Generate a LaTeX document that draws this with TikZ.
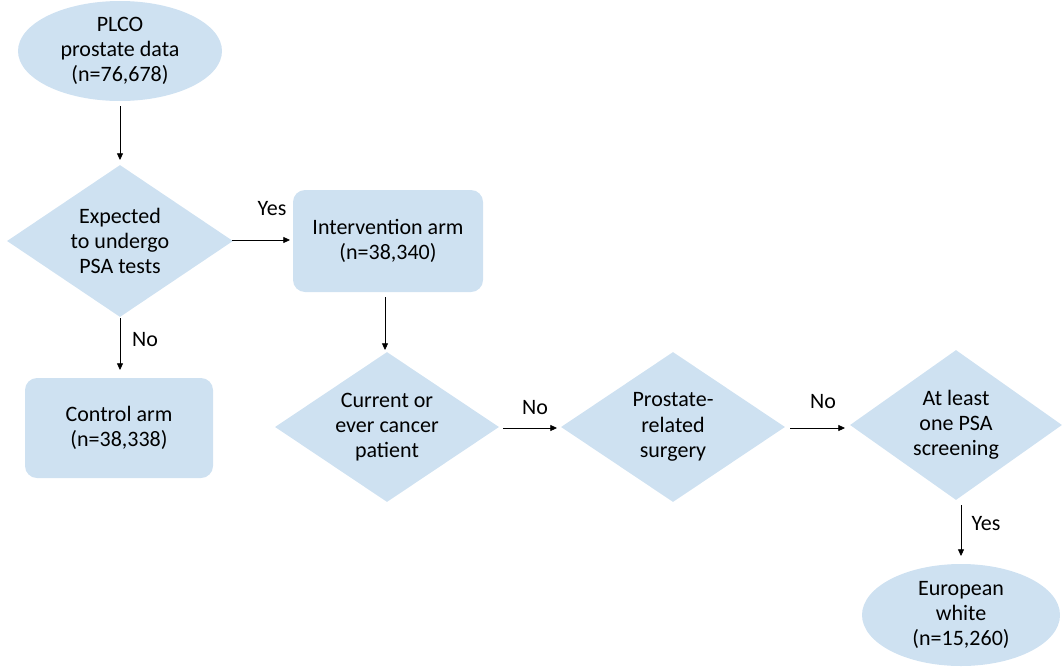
\documentclass[tikz,border=0pt]{standalone}
\usepackage{fontspec}
\setmainfont{Carlito}
\usetikzlibrary{shapes.geometric,arrows.meta}
\definecolor{boxblue}{RGB}{206,225,241}
\tikzset{
  base/.style={fill=boxblue,draw=none,align=center,font=\fontsize{16.5}{18.9}\selectfont,inner sep=0pt},
  oval/.style={base,ellipse},
  dec/.style={base,diamond,aspect=1.5},
  rbox/.style={base,rectangle,rounded corners=9pt},
  arr/.style={-{Triangle[length=5pt,width=4.5pt]},line width=0.6pt},
  lab/.style={font=\fontsize{16.5}{18}\selectfont,inner sep=1pt}
}
\begin{document}
\begin{tikzpicture}[x=0.75pt,y=-0.75pt]
\useasboundingbox (0,0) rectangle (1062,671);
% shapes
\node[oval,minimum width=204*0.75pt,minimum height=100*0.75pt] (plco) at (120,51) {PLCO\\prostate data\\(n=76,678)};
\node[dec,minimum width=226*0.75pt,minimum height=152*0.75pt] (exp) at (120,241) {Expected\\to undergo\\PSA tests};
\node[rbox,minimum width=190*0.75pt,minimum height=102*0.75pt] (int) at (388,241) {Intervention arm\\(n=38,340)};
\node[rbox,minimum width=188*0.75pt,minimum height=100*0.75pt] (ctrl) at (119,428) {Control arm\\(n=38,338)};
\node[dec,minimum width=224*0.75pt,minimum height=150*0.75pt] (cur) at (387,427) {Current or\\ever cancer\\patient};
\node[dec,minimum width=224*0.75pt,minimum height=150*0.75pt] (surg) at (673,427) {Prostate-\\related\\surgery};
\node[dec,minimum width=212*0.75pt,minimum height=150*0.75pt] (psa) at (956,425) {At least\\one PSA\\screening};
\node[oval,minimum width=198*0.75pt,minimum height=102*0.75pt] (eur) at (961,615) {European\\white\\(n=15,260)};
% connector endpoints
\coordinate (a1) at (120,106); \coordinate (a2) at (120,160);
\coordinate (b1) at (232,240); \coordinate (b2) at (290,240);
\coordinate (c1) at (120,318); \coordinate (c2) at (120,370);
\coordinate (d1) at (385,297); \coordinate (d2) at (385,350);
\coordinate (e1) at (503,428); \coordinate (e2) at (557,428);
\coordinate (f1) at (790,428); \coordinate (f2) at (845,428);
\coordinate (g1) at (961,505); \coordinate (g2) at (961,556);
\draw[arr] (a1) -- (a2);
\draw[arr] (b1) -- (b2);
\draw[arr] (c1) -- (c2);
\draw[arr] (d1) -- (d2);
\draw[arr] (e1) -- (e2);
\draw[arr] (f1) -- (f2);
\draw[arr] (g1) -- (g2);
% labels
\node[lab] (lyes1) at (272,209) {Yes};
\node[lab] (lno1) at (145,340) {No};
\node[lab] (lno2) at (535,408) {No};
\node[lab] (lno3) at (823,402) {No};
\node[lab] (lyes2) at (986,524) {Yes};
\end{tikzpicture}
\end{document}
